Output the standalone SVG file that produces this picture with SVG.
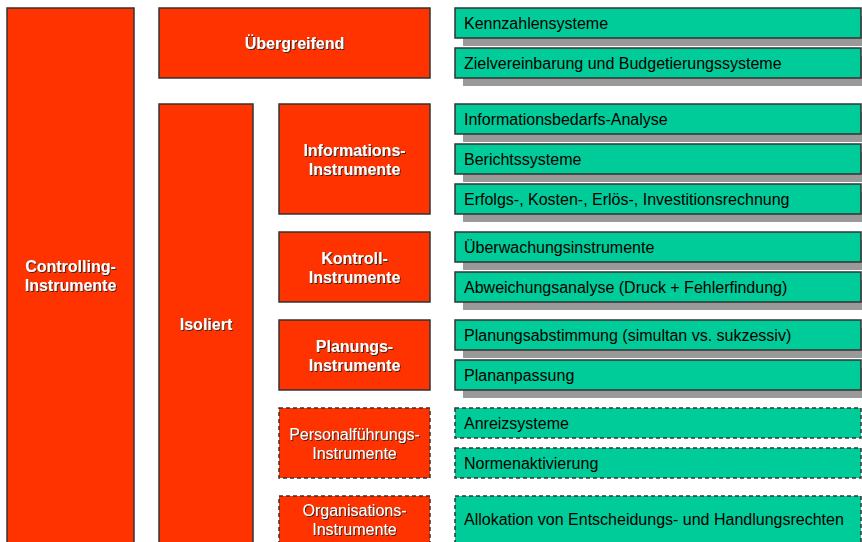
<svg xmlns="http://www.w3.org/2000/svg" width="862" height="542" viewBox="0 0 862 542">
<defs>
<filter id="ts" x="-10%" y="-30%" width="120%" height="160%">
<feDropShadow dx="1" dy="1" stdDeviation="0.3" flood-color="#222" flood-opacity="0.9"/>
</filter>
</defs>
<style>
.red{fill:#FF3300;stroke:#333;stroke-width:1.5}
.dash{stroke-dasharray:4 3}
.grn{fill:#00CC99;stroke:#333;stroke-width:1.5}
.sh{fill:#999}
.rt{font-family:"Liberation Sans",Arial,sans-serif;font-size:16px;font-weight:bold;fill:#fff;text-anchor:middle;filter:url(#ts)}
.rtn{font-weight:normal}
.gt{font-family:"Liberation Sans",Arial,sans-serif;font-size:16px;fill:#000}
</style>
<rect width="862" height="542" fill="#fff"/>
<g id="controlling">
<rect class="red" x="7" y="8" width="127" height="540"/>
<text class="rt"><tspan x="70.5" y="272">Controlling-</tspan><tspan x="70.5" y="291">Instrumente</tspan></text>
</g>
<g id="uebergreifend">
<rect class="red" x="159" y="8" width="271" height="70"/>
<text class="rt" x="294.5" y="49">Übergreifend</text>
</g>
<g id="isoliert">
<rect class="red" x="159" y="104" width="94" height="444"/>
<text class="rt" x="206" y="330">Isoliert</text>
</g>
<g id="informations">
<rect class="red" x="279" y="104" width="151" height="110"/>
<text class="rt"><tspan x="354.5" y="156">Informations-</tspan><tspan x="354.5" y="175">Instrumente</tspan></text>
</g>
<g id="kontroll">
<rect class="red" x="279" y="232" width="151" height="70"/>
<text class="rt"><tspan x="354.5" y="264">Kontroll-</tspan><tspan x="354.5" y="283">Instrumente</tspan></text>
</g>
<g id="planungs">
<rect class="red" x="279" y="320" width="151" height="70"/>
<text class="rt"><tspan x="354.5" y="352">Planungs-</tspan><tspan x="354.5" y="371">Instrumente</tspan></text>
</g>
<g id="personal">
<rect class="red dash" x="279" y="408" width="151" height="70"/>
<text class="rt rtn"><tspan x="354.5" y="440">Personalführungs-</tspan><tspan x="354.5" y="459">Instrumente</tspan></text>
</g>
<g id="organisations">
<rect class="red dash" x="279" y="496" width="151" height="52"/>
<text class="rt rtn"><tspan x="354.5" y="516">Organisations-</tspan><tspan x="354.5" y="535">Instrumente</tspan></text>
</g>
<g id="connectors"></g>
<g id="kennzahlen">
<rect class="sh" x="463" y="16" width="406" height="30"/>
<rect class="grn" x="455" y="8" width="406" height="30"/>
<text class="gt" x="464" y="29">Kennzahlensysteme</text>
</g>
<g id="zielvereinbarung">
<rect class="sh" x="463" y="56" width="406" height="30"/>
<rect class="grn" x="455" y="48" width="406" height="30"/>
<text class="gt" x="464" y="69">Zielvereinbarung und Budgetierungssysteme</text>
</g>
<g id="infobedarf">
<rect class="sh" x="463" y="112" width="406" height="30"/>
<rect class="grn" x="455" y="104" width="406" height="30"/>
<text class="gt" x="464" y="125">Informationsbedarfs-Analyse</text>
</g>
<g id="bericht">
<rect class="sh" x="463" y="152" width="406" height="30"/>
<rect class="grn" x="455" y="144" width="406" height="30"/>
<text class="gt" x="464" y="165">Berichtssysteme</text>
</g>
<g id="erfolgs">
<rect class="sh" x="463" y="192" width="406" height="30"/>
<rect class="grn" x="455" y="184" width="406" height="30"/>
<text class="gt" x="464" y="205">Erfolgs-, Kosten-, Erlös-, Investitionsrechnung</text>
</g>
<g id="ueberwachung">
<rect class="sh" x="463" y="240" width="406" height="30"/>
<rect class="grn" x="455" y="232" width="406" height="30"/>
<text class="gt" x="464" y="253">Überwachungsinstrumente</text>
</g>
<g id="abweichung">
<rect class="sh" x="463" y="280" width="406" height="30"/>
<rect class="grn" x="455" y="272" width="406" height="30"/>
<text class="gt" x="464" y="293">Abweichungsanalyse (Druck + Fehlerfindung)</text>
</g>
<g id="planabstimmung">
<rect class="sh" x="463" y="328" width="406" height="30"/>
<rect class="grn" x="455" y="320" width="406" height="30"/>
<text class="gt" x="464" y="341">Planungsabstimmung (simultan vs. sukzessiv)</text>
</g>
<g id="plananpassung">
<rect class="sh" x="463" y="368" width="406" height="30"/>
<rect class="grn" x="455" y="360" width="406" height="30"/>
<text class="gt" x="464" y="381">Plananpassung</text>
</g>
<g id="anreiz">
<rect class="grn dash" x="455" y="408" width="406" height="30"/>
<text class="gt" x="464" y="429">Anreizsysteme</text>
</g>
<g id="normen">
<rect class="grn dash" x="455" y="448" width="406" height="30"/>
<text class="gt" x="464" y="469">Normenaktivierung</text>
</g>
<g id="allokation">
<rect class="grn dash" x="455" y="496" width="406" height="52"/>
<text class="gt" x="464" y="525">Allokation von Entscheidungs- und Handlungsrechten</text>
</g>
</svg>
